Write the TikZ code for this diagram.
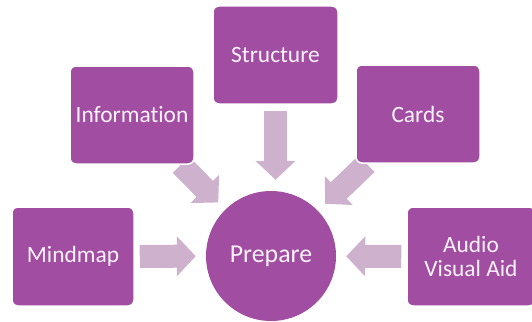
\documentclass[tikz,border=0pt]{standalone}
\usepackage{fontspec}
\setmainfont{Carlito}[Ligatures=NoCommon]
\usetikzlibrary{arrows.meta,backgrounds}
\definecolor{boxc}{RGB}{161,77,161}
\definecolor{arrc}{RGB}{205,177,205}
\definecolor{txtc}{RGB}{252,242,252}
\begin{document}
\begin{tikzpicture}[x=1pt,y=-1pt,
  box/.style={rectangle, rounded corners=6pt, fill=boxc, draw=white, line width=1.5pt,
    inner sep=0pt, align=center, text=txtc, font=\fontsize{23.4}{24}\selectfont},
  barrow/.style={draw=arrc, line width=23pt, -{Triangle[length=19pt,width=39pt]}}]
\useasboundingbox (0,0) rectangle (532,321);
\clip (0,0) rectangle (532,321);
\node[box, minimum width=125pt, minimum height=98pt] (structure) at (275.5,55) {Structure};
\node[box, minimum width=124pt, minimum height=98pt] (information) at (132,115) {Information};
\node[box, minimum width=124pt, minimum height=98pt] (cards) at (418,114) {Cards};
\node[box, minimum width=122pt, minimum height=99pt] (mindmap) at (73,256.5) {Mindmap};
\node[box, minimum width=128pt, minimum height=99pt] (audio) at (471,256.5) {Audio\\Visual Aid};
\node[circle, fill=boxc, minimum size=130pt, inner sep=0pt, text=txtc,
  font=\fontsize{25.8}{26}\selectfont] (prepare) at (271,256) {Prepare};
\begin{scope}[on background layer]
\draw[barrow, shorten <=5pt, shorten >=10pt] (mindmap) -- (prepare);
\draw[barrow, shorten <=5pt, shorten >=10pt] (audio.west) -- (prepare);
\draw[barrow, shorten <=6pt, shorten >=11pt] (structure.south) -- (structure.south |- prepare.north);
\draw[barrow, shorten >=10pt] (information) -- (prepare);
\draw[barrow, shorten >=10pt] (cards) -- (prepare);
\end{scope}
\end{tikzpicture}
\end{document}
